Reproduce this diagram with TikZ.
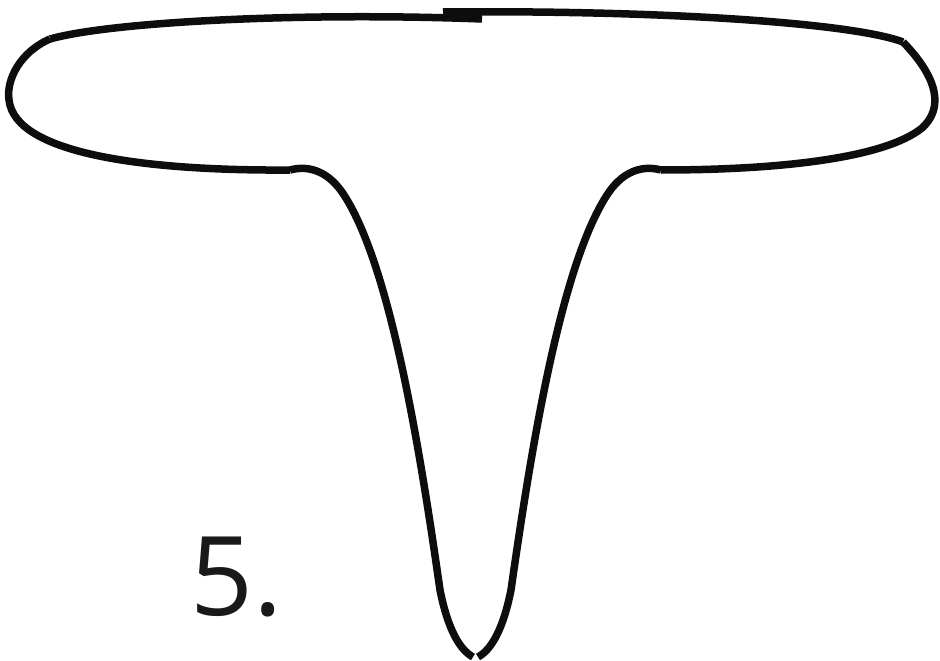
\documentclass[tikz,border=0pt]{standalone}
\usepackage{fontspec}
\newfontfamily\labelfont{Open Sans}
\begin{document}
\begin{tikzpicture}[x=1pt,y=-1pt,
  outline/.style={line width=7.5pt,black!95,line join=round}]
\useasboundingbox (0,0) rectangle (940,661);
% top-left piece
\draw[outline] (482,19) .. controls (300,12) and (110,22) .. (50,39);
% left cap and left bottom edge
\draw[outline] (50,39) .. controls (20,52) and (6,80) .. (9,100)
  .. controls (15,155) and (150,171) .. (290,170);
% left stem
\draw[outline] (290,170) .. controls (305,166) and (325,168) .. (342,192)
  .. controls (390,262) and (420,450) .. (440,590)
  .. controls (448,630) and (460,650) .. (473,657);
% right stem
\draw[outline] (661,170) .. controls (646,166) and (626,168) .. (609,192)
  .. controls (561,262) and (531,450) .. (511,590)
  .. controls (503,630) and (491,650) .. (478,657);
% right bottom edge and right cap
\draw[outline] (661,170) .. controls (780,170) and (885,158) .. (922,128)
  .. controls (944,108) and (938,78) .. (903,42);
% top-right piece
\draw[outline] (903,42) .. controls (850,22) and (650,10) .. (443,12);
\node[anchor=base west,inner sep=0pt,font=\labelfont\fontsize{110}{110}\selectfont,text=black!90] (lbl) at (190,615) {5.};
\end{tikzpicture}
\end{document}
